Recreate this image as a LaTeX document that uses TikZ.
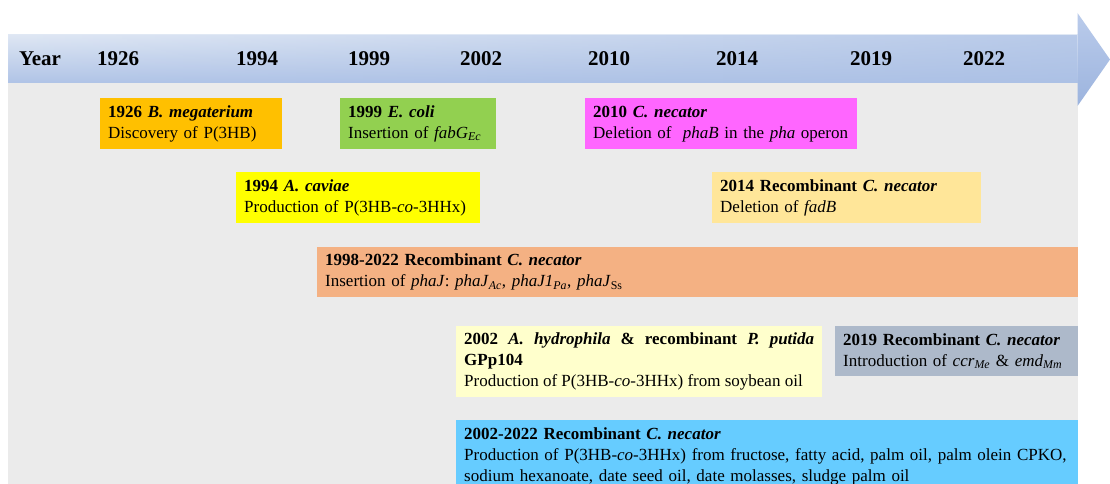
\documentclass[tikz,border=0pt]{standalone}
\usepackage{fontspec}
\setmainfont{Liberation Serif}
\usetikzlibrary{positioning, fadings}
\definecolor{paleGray}{HTML}{EBEBEB}
\definecolor{bandTop}{HTML}{DFE7F4}
\definecolor{bandBottom}{HTML}{B0C4E7}
\definecolor{bandDark}{HTML}{ABC0E5}
\definecolor{headTop}{HTML}{BACBEB}
\definecolor{headBottom}{HTML}{9CB4DE}
\definecolor{cOrange}{HTML}{FFC000}
\definecolor{cGreen}{HTML}{92D050}
\definecolor{cMagenta}{HTML}{FF66FF}
\definecolor{cYellow}{HTML}{FFFF00}
\definecolor{cSand}{HTML}{FFE699}
\definecolor{cSalmon}{HTML}{F4B183}
\definecolor{cCream}{HTML}{FFFFCC}
\definecolor{cSlate}{HTML}{ADB9CA}
\definecolor{cSky}{HTML}{66CCFF}
\tikzfading[name=bandfade, left color=transparent!100, right color=transparent!25]
\tikzset{year/.style={anchor=base, font=\fontsize{21}{25}\selectfont\bfseries}, % the labels on the time band
event/.style={anchor=north west, inner xsep=8pt, inner ysep=0pt, align=left, font=\fontsize{17}{21}\selectfont}, % a coloured box of the timeline
}

\begin{document}
\begin{tikzpicture}[x=1pt, y=-1pt]
  \clip (0,0) rectangle (1110,484);
  \useasboundingbox (0,0) rectangle (1110,484);
  \fill[white] (0,0) rectangle (1110,484);
  \fill[paleGray] (8,83) rectangle (1078,484);
  % the time band and its head
  \shade[top color=bandTop, bottom color=bandBottom] (8,35) rectangle (1078,83);
  \fill[bandDark, path fading=bandfade] (8,35) rectangle (1078,83);
  \shade[top color=headTop, bottom color=headBottom]
    (1077.5,13) -- (1110,59.5) -- (1077.5,106) -- cycle;

  % years on the band
  \node[year] (yYear) at (40,66) {Year};
  \node[year] (y1926) at (118,66) {1926};
  \node[year] (y1994) at (257,66) {1994};
  \node[year] (y1999) at (369,66) {1999};
  \node[year] (y2002) at (481,66) {2002};
  \node[year] (y2010) at (609,66) {2010};
  \node[year] (y2014) at (737,66) {2014};
  \node[year] (y2019) at (871,66) {2019};
  \node[year] (y2022) at (984,66) {2022};

  % events
  \node[event, fill=cOrange, text width=166pt, minimum height=51pt] (e1926) at (100,98)
    {\textbf{1926 \textit{B. megaterium}}\\Discovery of P(3HB)};
  \node[event, fill=cGreen, text width=140pt, minimum height=51pt] (e1999) at (340,98)
    {\textbf{1999 \textit{E. coli}}\\Insertion of \textit{fabG}\textsubscript{\textit{Ec}}};
  \node[event, fill=cMagenta, text width=256pt, minimum height=51pt] (e2010) at (585,98)
    {\textbf{2010 \textit{C. necator}}\\Deletion of~ \textit{phaB} in the \textit{pha} operon};
  \node[event, fill=cYellow, text width=228pt, minimum height=51pt] (e1994) at (236,172)
    {\textbf{1994 \textit{A. caviae}}\\Production of P(3HB-\textit{co}-3HHx)};
  \node[event, fill=cSand, text width=253pt, minimum height=51pt] (e2014) at (712,172)
    {\textbf{2014 Recombinant \textit{C. necator}}\\Deletion of \textit{fadB}};
  \node[event, fill=cSalmon, text width=745pt, minimum height=50pt] (e1998) at (317,247)
    {\textbf{1998-2022 Recombinant \textit{C. necator}}\\Insertion of \textit{phaJ}: \textit{phaJ}\textsubscript{\textit{Ac}}, \textit{phaJ1}\textsubscript{\textit{Pa}}, \textit{phaJ}\textsubscript{Ss}};
  \node[event, fill=cCream, text width=350pt, minimum height=71pt, align=justify] (e2002) at (456,326)
    {\hyphenpenalty=10000\textbf{2002 \textit{A. hydrophila} \& recombinant \textit{P. putida}\linebreak GPp104}\\Production of P(3HB-\textit{co}-3HHx) from soybean oil};
  \node[event, fill=cSlate, text width=227pt, minimum height=50pt] (e2019) at (835,326)
    {\textbf{2019 Recombinant \textit{C. necator}}\\Introduction of \textit{ccr}\textsubscript{\textit{Me}} \& \textit{emd}\textsubscript{\textit{Mm}}};
  \node[event, fill=cSky, text width=606pt, minimum height=72pt] (e2002b) at (456,420)
    {\textbf{2002-2022 Recombinant \textit{C. necator}}\\Production of P(3HB-\textit{co}-3HHx) from fructose, fatty acid, palm oil, palm olein CPKO,\\sodium hexanoate, date seed oil, date molasses, sludge palm oil};
\end{tikzpicture}
\end{document}
